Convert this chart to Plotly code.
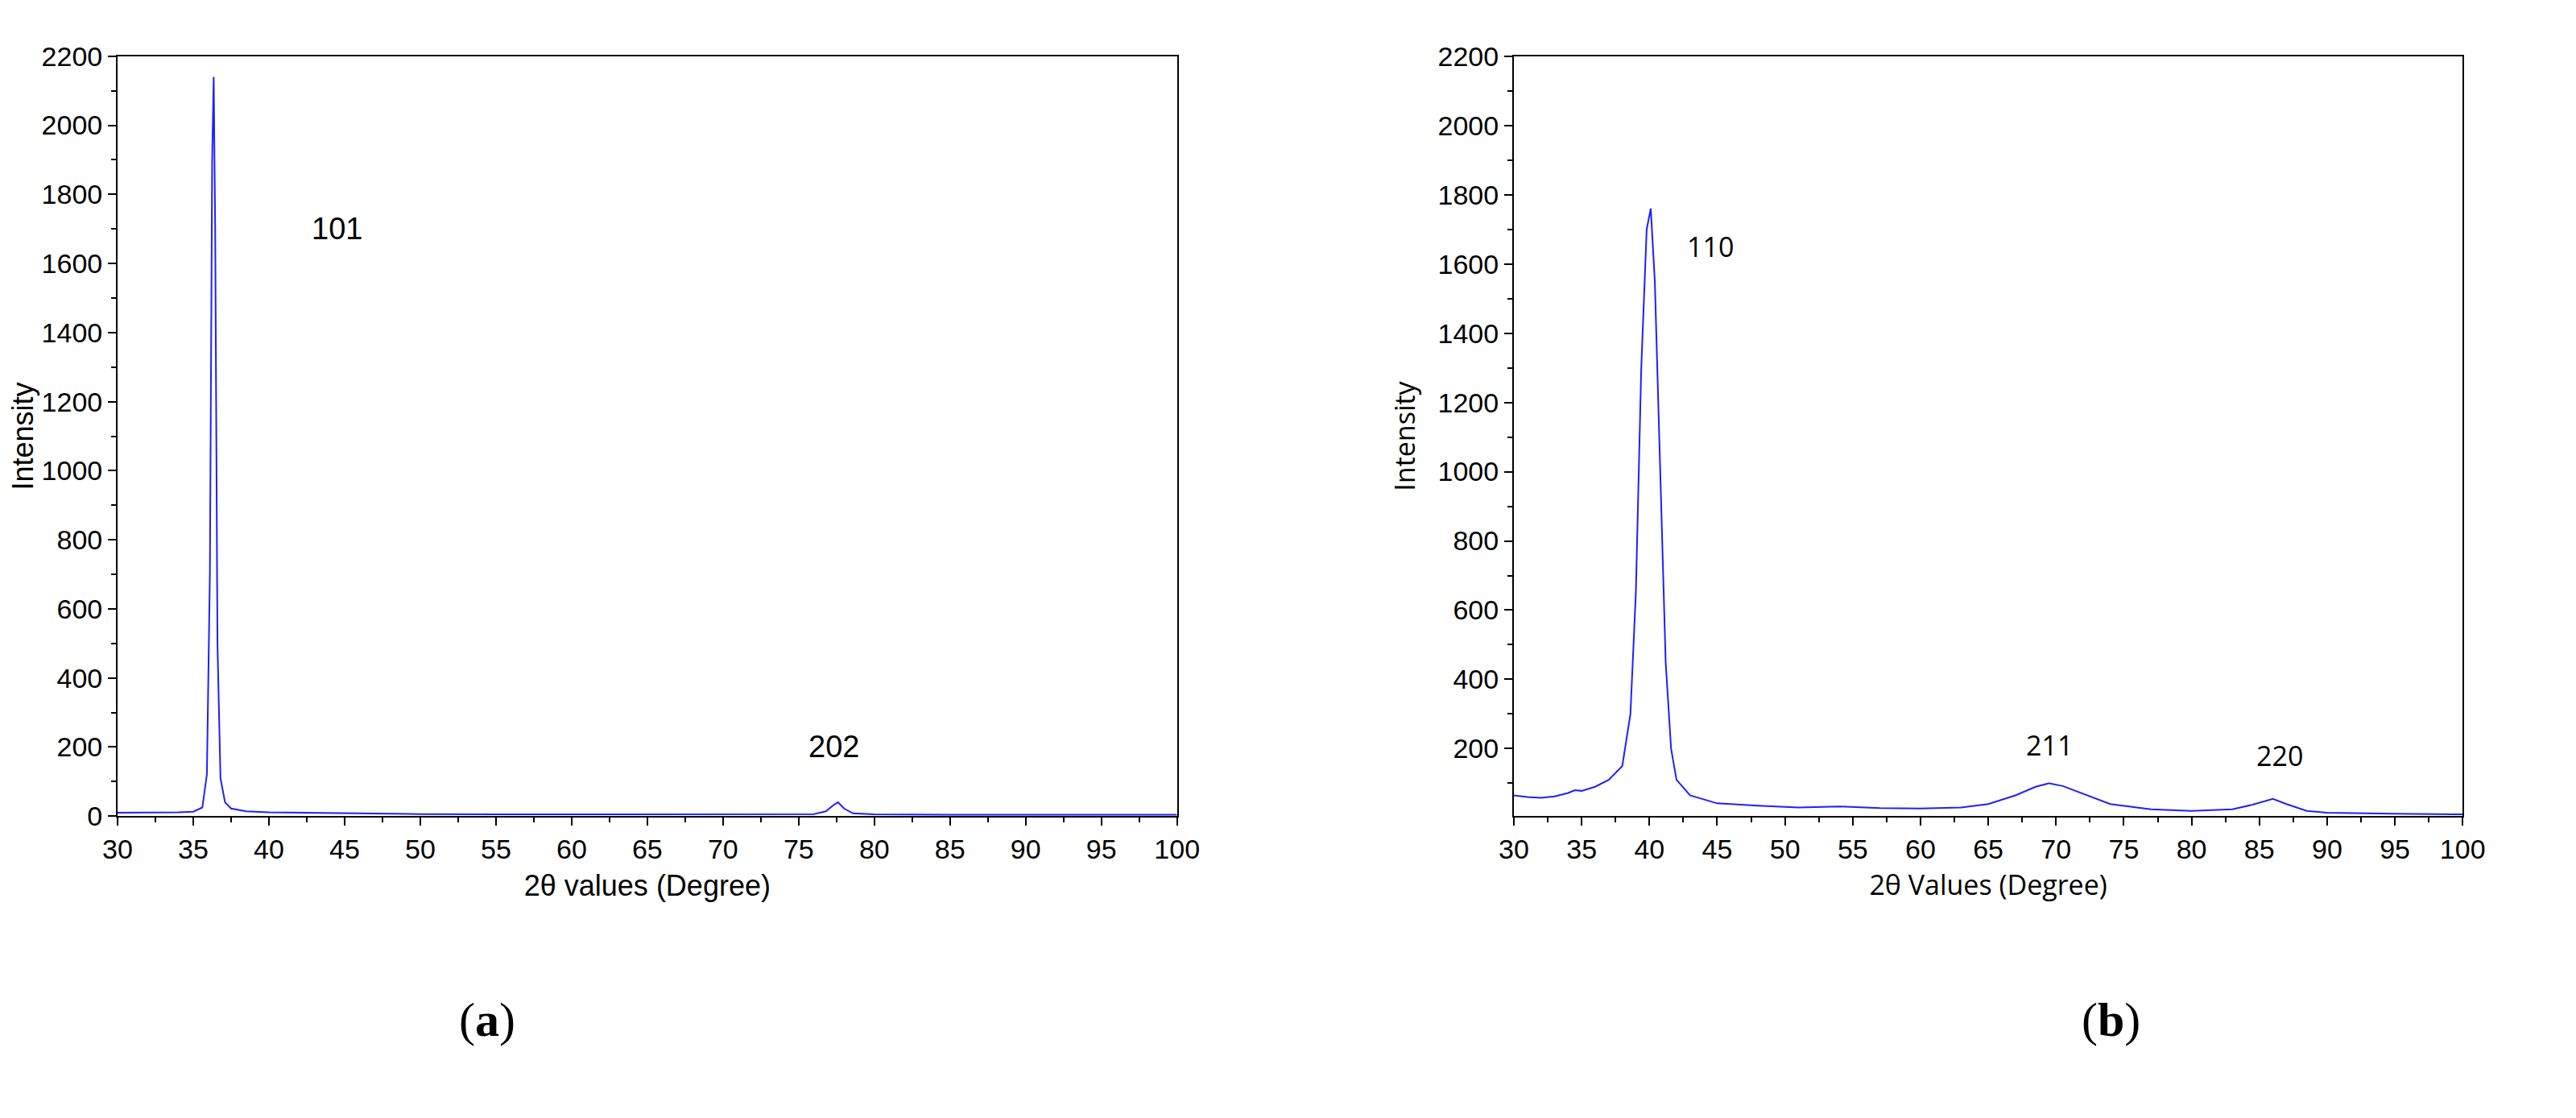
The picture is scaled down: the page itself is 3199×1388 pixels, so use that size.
import plotly.graph_objects as go

# (a) pattern
two_theta_a = [30, 32, 34, 35, 35.6, 35.9, 36.1, 36.25, 36.35, 36.45, 36.6, 36.8, 37.1, 37.5, 38.5, 40,
               45, 50, 55, 60, 65, 70, 74, 76, 76.8, 77.3, 77.6, 78, 78.6, 80, 85, 90, 95, 100]
intensity_a = [10, 10, 11, 13, 25, 120, 700, 1900, 2140, 1700, 500, 110, 40, 22, 14, 11,
               8, 6, 5, 5, 5, 6, 5, 6, 14, 32, 40, 22, 8, 5, 4, 4, 4, 4]

# (b) pattern
two_theta_b = [30, 31, 32, 33, 34, 34.5, 35, 36, 37, 38, 38.6, 39, 39.4, 39.8, 40.1, 40.4, 40.8, 41.2,
               41.6, 42, 43, 45, 48, 51, 54, 57, 60, 63, 65, 67, 68.5, 69.5, 70.5, 72, 74, 77,
               80, 83, 84.5, 86, 87, 88.5, 90, 95, 100]
intensity_b = [65, 60, 58, 62, 72, 80, 78, 90, 110, 150, 300, 650, 1300, 1700, 1760, 1550, 1000, 450,
               200, 110, 65, 42, 35, 30, 33, 28, 27, 30, 40, 65, 90, 100, 92, 70, 40, 25,
               20, 25, 38, 55, 40, 20, 15, 12, 10]

BLUE = "#1f1fff"
FONT = "Liberation Sans"

fig = go.Figure()
fig.add_trace(go.Scatter(x=two_theta_a, y=intensity_a, mode="lines", line=dict(color=BLUE, width=2),
                         xaxis="x", yaxis="y", showlegend=False))
fig.add_trace(go.Scatter(x=two_theta_b, y=intensity_b, mode="lines", line=dict(color=BLUE, width=2),
                         xaxis="x2", yaxis="y2", showlegend=False))

W, H = 3199, 1388
ax = dict(showline=True, linecolor="black", linewidth=2, mirror=True, ticks="outside",
          ticklen=10, tickwidth=2, tickcolor="black", showgrid=False, zeroline=False,
          tickfont=dict(family=FONT, size=34, color="black"),
          minor=dict(ticks="outside", ticklen=6, tickwidth=2, tickcolor="black"))

xa = dict(ax, range=[30, 100], dtick=5, minor=dict(ax["minor"], dtick=2.5))
fig.update_layout(
    width=W, height=H, plot_bgcolor="white", paper_bgcolor="white",
    margin=dict(l=0, r=0, t=0, b=0),
    xaxis=dict(xa, domain=[110 / W, 1450 / W], anchor="y",
               title=dict(text="2θ values (Degree)", font=dict(family=FONT, size=36, color="black"))),
    yaxis=dict(ax, domain=[1 - 1014 / H, 1 - 44 / H], anchor="x", range=[0, 2200], dtick=200,
               minor=dict(ax["minor"], dtick=100),
               title=dict(text="Intensity", font=dict(family=FONT, size=36, color="black"), standoff=18)),
    xaxis2=dict(xa, domain=[1876 / W, 3076 / W], anchor="y2",
                title=dict(text="2θ Values (Degree)", font=dict(family="Open Sans", size=34, color="black"))),
    yaxis2=dict(ax, domain=[1 - 1014 / H, 1 - 44 / H], anchor="x2", range=[5, 2200], dtick=200,
                tick0=0, minor=dict(ax["minor"], dtick=100),
                title=dict(text="Intensity", font=dict(family="Open Sans", size=34, color="black"), standoff=18)),
)

# peak labels
labels_a = [("101", 44.5, 1700), ("202", 77.3, 200)]
labels_b = [("110", 44.5, 1650), ("211", 69.5, 210), ("220", 86.5, 180)]
for txt, x, y in labels_a:
    fig.add_annotation(x=x, y=y, xref="x", yref="y", text=txt, showarrow=False,
                       font=dict(family=FONT, size=38, color="black"))
for txt, x, y in labels_b:
    fig.add_annotation(x=x, y=y, xref="x2", yref="y2", text=txt, showarrow=False,
                       font=dict(family="Open Sans", size=34, color="black"))

# panel letters
for txt, x in [("(<b>a</b>)", 540 / W), ("(<b>b</b>)", 2670 / W)]:
    fig.add_annotation(x=x, y=1 - 1310 / H, xref="paper", yref="paper", text=txt, showarrow=False,
                       font=dict(family="Liberation Serif", size=60, color="black"))

fig.write_html("out.html")
